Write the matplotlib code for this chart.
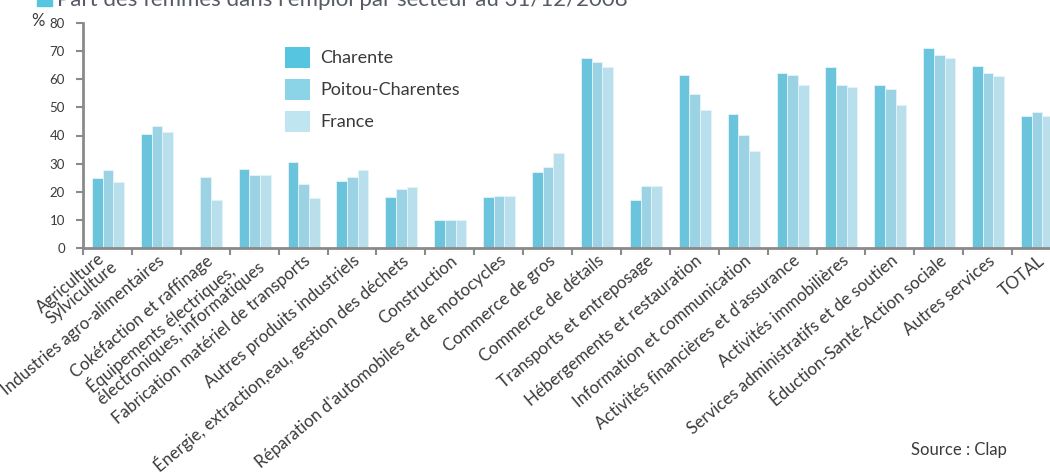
import matplotlib
matplotlib.use("Agg")
import matplotlib.pyplot as plt
from matplotlib.patches import Patch, Rectangle
import numpy as np

plt.rcParams['font.family'] = ['Lato', 'DejaVu Sans']

# Secteurs (axe des x)
sectors = [
    "Agriculture\nSylviculture",
    "Industries agro-alimentaires",
    "Cokéfaction et raffinage",
    "Équipements électriques,\nélectroniques, informatiques",
    "Fabrication matériel de transports",
    "Autres produits industriels",
    "Énergie, extraction,eau, gestion des déchets",
    "Construction",
    "Réparation d'automobiles et de motocycles",
    "Commerce de gros",
    "Commerce de détails",
    "Transports et entreposage",
    "Hébergements et restauration",
    "Information et communication",
    "Activités financières et d'assurance",
    "Activités immobilières",
    "Services administratifs et de soutien",
    "Éduction-Santé-Action sociale",
    "Autres services",
    "TOTAL",
]

# Part des femmes (%)
charente = [25.0, 40.7, 0.0, 28.2, 30.7, 24.0, 18.2, 9.8, 18.2, 27.1,
            67.4, 17.2, 61.4, 47.8, 62.4, 64.2, 57.8, 71.0, 64.6, 47.1]
poitou = [27.9, 43.5, 25.3, 26.0, 22.6, 25.1, 21.0, 9.8, 18.5, 28.9,
          66.1, 22.1, 54.6, 40.1, 61.4, 58.1, 56.7, 68.8, 62.4, 48.5]
france = [23.5, 41.4, 17.1, 26.0, 17.8, 27.8, 21.8, 10.1, 18.5, 33.9,
          64.2, 22.1, 48.9, 34.6, 57.8, 57.1, 50.7, 67.4, 61.0, 47.1]

series_names = ["Charente", "Poitou-Charentes", "France"]
bar_colors = ["#6ac5dc", "#9bd3e5", "#b8dfeb"]
legend_colors = ["#56c5e0", "#8bd3e6", "#bee5f0"]
text_col = "#3a3a3a"
axis_col = "#8a8a8a"

W, H = 1050, 476
fig = plt.figure(figsize=(W / 100, H / 100), dpi=100)
# axe : x de 83 px a 1061 px (coupe a droite), y de 248 px a 23 px
ax = fig.add_axes([83 / W, (H - 248) / H, 978 / W, 225 / H])

x = np.arange(len(sectors))
bw = 0.218
for k, vals in enumerate([charente, poitou, france]):
    ax.bar(x + (k - 1) * bw + 0.01, vals, width=bw, color=bar_colors[k],
           edgecolor="#e4f4f9", linewidth=0.6, zorder=2)

ax.set_xlim(-0.5, len(sectors) - 0.5)
ax.set_ylim(0, 80)
ax.set_yticks(range(0, 81, 10))
ax.tick_params(axis="y", length=5, width=1.5, color=axis_col, labelsize=9.5,
               labelcolor=text_col, pad=8)
ax.set_xticks(np.arange(len(sectors) + 1) - 0.5)
ax.set_xticklabels([])
ax.tick_params(axis="x", length=5, width=1.5, color=axis_col, direction="out")

for side in ["top", "right"]:
    ax.spines[side].set_visible(False)
for side in ["left", "bottom"]:
    ax.spines[side].set_color(axis_col)
    ax.spines[side].set_linewidth(2)

# libelles inclines (ancres sur le coin bas-droit de la derniere ligne)
for i, lab in enumerate(sectors):
    two_lines = "\n" in lab
    ax.text(i + (0.27 if two_lines else 0.22), -8.3 if two_lines else -6.0,
            lab, rotation=40, rotation_mode="anchor",
            ha="right", va="bottom", multialignment="left", fontsize=12.2,
            color=text_col, clip_on=False, linespacing=0.95)

fig.text(45 / W, 1 - 26 / H, "%", fontsize=12, color=text_col,
         ha="right", va="baseline")

handles = [Patch(facecolor=c, edgecolor="none") for c in legend_colors]
ax.legend(handles, series_names, loc="upper left",
          bbox_to_anchor=(186 / 978, 1 - (31 - 23) / 225), frameon=False,
          fontsize=13, handlelength=1.35, handleheight=1.35,
          labelspacing=0.65, handletextpad=0.6, labelcolor=text_col)

# titre (coupe en haut de l'image)
fig.patches.append(Rectangle((37 / W, 1 - 6 / H), 15 / W, 16 / H,
                             transform=fig.transFigure, color="#56c5e0"))
fig.text(57 / W, 1 - 6 / H, "Part des femmes dans l'emploi par secteur au 31/12/2008",
         fontsize=16, color="#555a66", ha="left", va="baseline")

fig.text(1007 / W, 1 - 455 / H, "Source : Clap", fontsize=12,
         color=text_col, ha="right", va="baseline")

fig.savefig("out.png", dpi=100)
